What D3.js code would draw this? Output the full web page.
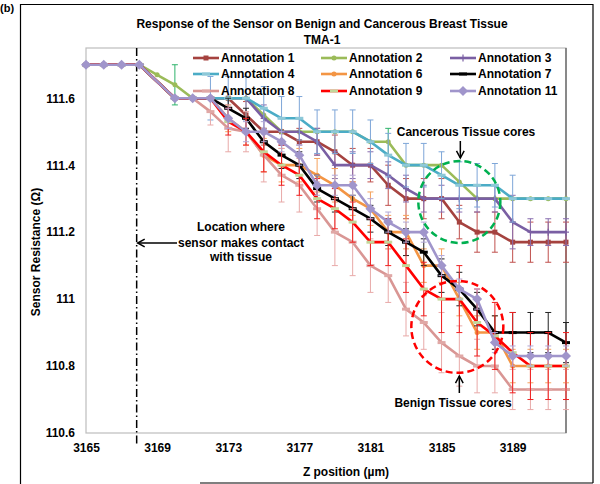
<!DOCTYPE html>
<html><head><meta charset="utf-8">
<script src="https://cdn.jsdelivr.net/npm/d3@7"></script>
<style>body{margin:0;background:#fff}svg{display:block}text{font-family:Arial,"Liberation Sans",sans-serif}</style>
</head><body><svg id="c" width="600" height="484"></svg>
<script>
// ---- data ----
const zPositions = [3165,3166,3167,3168,3169,3170,3171,3172,3173,3174,3175,3176,3177,3178,3179,3180,3181,3182,3183,3184,3185,3186,3187,3188,3189,3190,3191,3192];
const xTickLabels = [3165,3169,3173,3177,3181,3185,3189];
const yTickLabels = [110.6,110.8,111,111.2,111.4,111.6];
const seriesNames = ["Annotation 1","Annotation 2","Annotation 3","Annotation 4","Annotation 6","Annotation 7","Annotation 8","Annotation 9","Annotation 11"];
const ann1 = [111.7,111.7,111.7,111.7,null,111.6,111.6,111.6,111.6,111.55,111.5,111.5,111.47,111.47,111.44,111.4,111.4,111.34,111.3,111.3,111.3,111.23,111.2,111.2,111.17,111.17,111.17,111.17];
const ann2 = [111.7,111.7,111.7,111.7,111.67,111.64,111.6,111.6,111.6,111.6,111.55,111.5,111.5,111.5,111.5,111.5,111.47,111.47,111.4,111.4,111.4,111.35,111.3,111.3,111.3,111.3,111.3,111.3];
const ann3 = [111.7,111.7,111.7,111.7,null,111.6,111.6,111.6,111.6,111.6,111.54,111.5,111.5,111.47,111.4,111.4,111.4,111.37,111.33,111.3,111.3,111.3,111.3,111.3,111.23,111.2,111.2,111.2];
const ann4 = [111.7,111.7,111.7,111.7,null,111.6,111.6,111.6,111.6,111.6,111.57,111.54,111.54,111.5,111.5,111.5,111.47,111.43,111.4,111.4,111.37,111.34,111.34,111.34,111.3,111.3,111.3,111.3];
const ann6 = [111.7,111.7,111.7,111.7,null,111.6,111.6,111.6,111.54,111.5,111.43,111.4,111.4,111.37,111.34,111.3,111.27,111.2,111.2,111.1,111.1,111.0,110.9,110.9,110.8,110.8,110.8,110.8];
const ann7 = [111.7,111.7,111.7,111.7,null,111.6,111.6,111.6,111.57,111.54,111.47,111.43,111.4,111.33,111.3,111.27,111.24,111.2,111.17,111.14,111.07,111.03,110.97,110.9,110.9,110.9,110.9,110.87];
const ann8 = [111.7,111.7,111.7,111.7,null,111.6,111.6,111.56,111.51,111.5,111.43,111.37,111.34,111.27,111.2,111.17,111.1,111.07,110.97,110.93,110.87,110.83,110.8,110.8,110.73,110.73,110.73,110.73];
const ann9 = [111.7,111.7,111.7,111.7,null,111.6,111.6,111.6,111.53,111.5,111.44,111.4,111.37,111.3,111.27,111.23,111.17,111.17,111.1,111.03,111.0,111.0,110.93,110.89,110.84,110.8,110.8,110.8];
const ann11 = [111.7,111.7,111.7,111.7,null,111.6,111.6,111.6,111.54,111.5,111.5,111.47,111.43,111.34,111.34,111.34,111.27,111.23,111.2,111.2,111.1,111.03,111.0,110.87,110.83,110.83,110.83,110.83];
// error bar half-widths (null = none)
const err1 = [null,null,null,null,null,null,null,null,null,0.04,0.04,0.04,0.04,0.04,0.05,0.05,0.05,0.06,0.06,0.06,0.06,0.05,0.06,0.06,0.06,0.06,0.06,0.06];
const err2 = [null,null,null,null,null,0.06,null,null,null,null,null,null,null,null,null,null,null,0.04,null,null,null,null,null,null,null,null,null,null];
const err3 = [null,null,null,null,null,null,null,null,null,null,0.04,0.04,0.04,0.04,0.04,0.04,0.04,0.04,0.04,0.04,0.04,0.04,0.04,0.04,0.08,0.04,0.04,0.04];
const err4 = [null,null,null,null,null,null,null,0.065,0.065,0.065,0.065,0.065,0.065,0.065,0.065,0.065,0.065,0.065,0.065,0.065,0.07,0.07,0.065,0.065,0.07,null,null,null];
const err6 = [null,null,null,null,null,null,null,null,0.04,0.04,0.05,0.05,0.05,0.05,0.05,0.05,0.05,0.05,0.05,0.05,0.05,0.05,0.05,0.05,0.05,0.05,0.05,0.05];
const err7 = [null,null,null,null,null,null,null,null,0.03,0.03,0.04,0.04,0.04,0.04,0.04,0.04,0.04,0.04,0.04,0.04,0.05,0.05,0.05,0.05,0.06,0.06,0.06,0.06];
const err8 = [null,null,null,null,null,null,null,0.04,0.07,0.06,0.08,0.08,0.08,0.08,0.1,0.1,0.08,0.08,0.08,0.08,0.09,0.09,0.08,0.08,0.06,0.06,0.06,0.06];
const err9 = [null,null,null,null,null,null,null,null,0.04,0.04,0.06,0.06,0.06,0.06,0.06,0.06,0.07,0.07,0.08,0.08,0.1,0.1,0.1,0.1,0.12,0.1,0.1,0.1];
const err11 = [null,null,null,null,null,null,null,null,0.03,0.03,0.03,0.03,0.03,0.03,0.03,0.03,0.03,0.03,0.03,0.03,0.03,0.03,0.03,0.03,0.03,0.03,0.03,0.03];
const contactZ = 3167.85;

// ---- styles ----
const styles = [
 {vals:ann1, err:err1, color:"#A5423F", ecolor:"#C0504D", marker:"square"},
 {vals:ann2, err:err2, color:"#9BBB59", ecolor:"#2DB36B", marker:"dot"},
 {vals:ann3, err:err3, color:"#7A5FA3", ecolor:"#8A6FB0", marker:"plus"},
 {vals:ann4, err:err4, color:"#4BACC6", ecolor:"#7EA6D8", marker:"dash", mcolor:"#8DC8D8"},
 {vals:ann6, err:err6, color:"#F39544", ecolor:"#F5A25E", marker:"dot"},
 {vals:ann7, err:err7, color:"#000000", ecolor:"#222222", marker:"dash"},
 {vals:ann8, err:err8, color:"#D99694", ecolor:"#E8A9A8", marker:"dash", mcolor:"#E0A8A6"},
 {vals:ann9, err:err9, color:"#FF0000", ecolor:"#F02020", marker:"dash", mcolor:"#C3D69B"},
 {vals:ann11, err:err11, color:"#A095CB", ecolor:"#B3A8D6", marker:"diamond"}
];

const svg = d3.select("#c");
const L=86, R=566, T=48, B=433;
const x = d3.scaleLinear().domain([3165,3192]).range([L,R]);
const y = d3.scaleLinear().domain([110.6,111.75]).range([B,T]);
const F = 'Arial,"Liberation Sans",sans-serif';

// outer frame
const fr = svg.append("g").attr("stroke","#000").attr("stroke-width",1.2);
fr.append("line").attr("x1",20.5).attr("x2",20.5).attr("y1",4).attr("y2",484);
fr.append("line").attr("x1",20).attr("x2",593).attr("y1",4.5).attr("y2",4.5);
fr.append("line").attr("x1",593).attr("x2",593).attr("y1",4).attr("y2",483);
fr.append("line").attr("x1",200).attr("x2",593).attr("y1",483).attr("y2",483);
svg.append("text").attr("x",0).attr("y",12).attr("font-size",11).attr("font-weight","bold").text("(b)");

// plot border
svg.append("rect").attr("x",L).attr("y",T).attr("width",R-L).attr("height",B-T).attr("fill","none").attr("stroke","#BDBDBD").attr("stroke-width",1.2);
svg.append("line").attr("x1",R).attr("x2",R).attr("y1",T).attr("y2",B).attr("stroke","#555").attr("stroke-width",1.2);

// title
svg.append("text").attr("x",322).attr("y",28).attr("text-anchor","middle").attr("font-size",12).attr("font-weight","bold").text("Response of the Sensor on Benign and Cancerous Breast Tissue");
svg.append("text").attr("x",322).attr("y",44).attr("text-anchor","middle").attr("font-size",12).attr("font-weight","bold").text("TMA-1");

// axes
const xa = svg.append("g").attr("transform",`translate(0,${B})`).call(d3.axisBottom(x).tickValues(xTickLabels).tickSize(0).tickPadding(10.8).tickFormat(d3.format("d")));
xa.select(".domain").remove();
xa.selectAll("text").attr("font-size",12).attr("font-weight","bold").attr("font-family",F).attr("fill","#000");
const ya = svg.append("g").attr("transform",`translate(${L},0)`).call(d3.axisLeft(y).tickValues(yTickLabels).tickSize(0).tickPadding(11).tickFormat(d=>d3.format("")(+d.toFixed(1))));
ya.select(".domain").remove();
ya.selectAll("text").attr("font-size",12).attr("font-weight","bold").attr("font-family",F).attr("fill","#000");
svg.append("text").attr("x",346).attr("y",476).attr("text-anchor","middle").attr("font-size",12).attr("font-weight","bold").text("Z position (\u00b5m)");
svg.append("text").attr("transform","translate(40,252) rotate(-90)").attr("text-anchor","middle").attr("font-size",12).attr("font-weight","bold").text("Sensor Resistance (\u03a9)");

// contact line
svg.append("line").attr("x1",x(contactZ)).attr("x2",x(contactZ)).attr("y1",T).attr("y2",446).attr("stroke","#000").attr("stroke-width",1.5).attr("stroke-dasharray","8,3,1.5,3");

function drawMarker(g, type, cx, cy, s){
  const col = s.mcolor || s.color;
  if(type==="square") g.append("rect").attr("x",cx-2.5).attr("y",cy-2.5).attr("width",5).attr("height",5).attr("fill",col);
  else if(type==="dot") g.append("circle").attr("cx",cx).attr("cy",cy).attr("r",2.5).attr("fill",col);
  else if(type==="plus"){ g.append("line").attr("x1",cx).attr("x2",cx).attr("y1",cy-3.5).attr("y2",cy+3.5).attr("stroke",col).attr("stroke-width",1.2);
    g.append("line").attr("x1",cx-3).attr("x2",cx+3).attr("y1",cy).attr("y2",cy).attr("stroke",col).attr("stroke-width",1.2);}
  else if(type==="dash") g.append("rect").attr("x",cx-4).attr("y",cy-1.5).attr("width",8).attr("height",3).attr("fill",col);
  else if(type==="diamond") g.append("path").attr("d",`M${cx},${cy-5}L${cx+5},${cy}L${cx},${cy+5}L${cx-5},${cy}Z`).attr("fill",col);
}

const line = d3.line().x(d=>x(d.z)).y(d=>y(d.v));
styles.forEach(s=>{
  const pts = zPositions.map((z,i)=>({z, v:s.vals[i], e:s.err[i]})).filter(d=>d.v!=null);
  const g = svg.append("g");
  // error bars
  pts.filter(d=>d.e!=null).forEach(d=>{
    const cx=x(d.z), y1=y(d.v+d.e), y2=y(d.v-d.e);
    g.append("line").attr("x1",cx).attr("x2",cx).attr("y1",y1).attr("y2",y2).attr("stroke",s.ecolor).attr("stroke-width",1);
    g.append("line").attr("x1",cx-3).attr("x2",cx+3).attr("y1",y1).attr("y2",y1).attr("stroke",s.ecolor).attr("stroke-width",1);
    g.append("line").attr("x1",cx-3).attr("x2",cx+3).attr("y1",y2).attr("y2",y2).attr("stroke",s.ecolor).attr("stroke-width",1);
  });
  g.append("path").attr("d",line(pts)).attr("fill","none").attr("stroke",s.color).attr("stroke-width",2.6).attr("stroke-linejoin","round");
  pts.forEach(d=>drawMarker(g,s.marker,x(d.z),y(d.v),s));
});

// legend
const legX=[193,321,450], legY=[58,74,91];
seriesNames.forEach((n,i)=>{
  const s=styles[i], cx=legX[i%3], cy=legY[Math.floor(i/3)];
  const g=svg.append("g");
  g.append("line").attr("x1",cx).attr("x2",cx+26).attr("y1",cy).attr("y2",cy).attr("stroke",s.color).attr("stroke-width",2.6);
  drawMarker(g,s.marker,cx+13,cy,s);
  g.append("text").attr("x",cx+28).attr("y",cy+4.3).attr("font-size",12).attr("font-weight","bold").text(n);
});

// annotations
const cancer = {z:3186, v:111.29}, benign = {z:3186, v:110.917};
svg.append("circle").attr("cx",x(cancer.z)).attr("cy",y(cancer.v)).attr("r",41).attr("fill","none").attr("stroke","#00B050").attr("stroke-width",2.5).attr("stroke-dasharray","7,4");
svg.append("circle").attr("cx",x(benign.z)-2).attr("cy",y(benign.v)).attr("r",46).attr("fill","none").attr("stroke","#FF0000").attr("stroke-width",2.5).attr("stroke-dasharray","7,4");
function arrow(x1,y1,x2,y2){
  svg.append("line").attr("x1",x1).attr("y1",y1).attr("x2",x2).attr("y2",y2).attr("stroke","#000").attr("stroke-width",1.5);
  const a=Math.atan2(y2-y1,x2-x1), h=8, w=0.5;
  svg.append("path").attr("d",`M${x2-h*Math.cos(a-w)},${y2-h*Math.sin(a-w)}L${x2},${y2}L${x2-h*Math.cos(a+w)},${y2-h*Math.sin(a+w)}`).attr("fill","none").attr("stroke","#000").attr("stroke-width",1.5);
}
svg.append("text").attr("x",466).attr("y",136).attr("text-anchor","middle").attr("font-size",12).attr("font-weight","bold").text("Cancerous Tissue cores");
arrow(x(cancer.z)+1,141,x(cancer.z)+1,158);
svg.append("text").attr("x",453).attr("y",407).attr("text-anchor","middle").attr("font-size",12).attr("font-weight","bold").text("Benign Tissue cores");
arrow(x(benign.z),393,x(benign.z),376);
const lt = svg.append("text").attr("text-anchor","middle").attr("font-size",12).attr("font-weight","bold");
lt.append("tspan").attr("x",241).attr("y",231).text("Location where");
lt.append("tspan").attr("x",241).attr("y",247).text("sensor makes contact");
lt.append("tspan").attr("x",241).attr("y",261).text("with tissue");
arrow(177,243,x(contactZ)+1,243);
</script></body></html>
